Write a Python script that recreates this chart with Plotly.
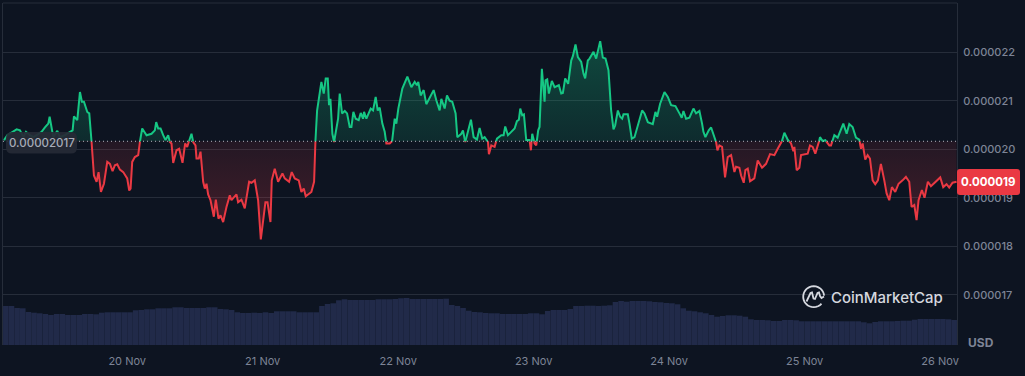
import math
import pandas as pd
import plotly.graph_objects as go

# ---------- data ----------
START = pd.Timestamp("2023-11-19 02:00")
END = pd.Timestamp("2023-11-26 03:00")
BASE = 2016.5          # opening price, 1e-8 USD
UNIT = 1e-8

hours = [
 .18,.77,2.42,3.01,3.6,4.07,4.78,5.37,5.96,6.84,7.43,8.02,8.26,8.61,8.91,9.62,10.09,10.97,11.86,12.33,12.57,13.16,13.63,13.98,14.34,14.93,15.28,15.69,15.87,16.11,
 16.58,16.93,17.35,17.88,18.47,18.94,19.41,19.82,20.24,20.71,21.3,22.0,22.36,22.6,22.89,23.36,23.95,24.25,24.66,25.43,26.31,26.9,27.14,27.49,27.91,28.38,28.79,29.26,29.56,29.85,
 30.15,30.74,31.21,31.8,32.27,32.63,33.1,33.39,33.69,34.1,34.28,34.69,34.99,35.46,35.75,36.05,36.34,36.76,37.35,37.7,38.17,38.53,39.0,39.59,40.18,40.47,41.36,41.65,42.24,42.83,
 43.6,44.01,44.6,45.19,45.67,46.49,46.85,47.38,47.61,48.14,48.73,49.5,49.91,50.68,51.15,51.68,52.39,52.86,53.28,53.63,54.63,55.11,55.34,55.64,56.4,56.82,57.17,57.53,57.76,58.0,
 58.35,58.65,59.36,59.65,60.06,60.54,60.95,61.42,61.72,62.07,62.48,63.01,63.37,63.78,63.96,64.37,64.84,65.14,65.55,66.02,66.38,66.73,67.2,67.62,67.91,68.5,68.91,69.39,69.68,70.03,
 70.74,71.63,72.34,72.93,73.34,73.57,73.99,74.52,74.99,75.46,76.29,76.76,77.35,77.65,78.24,78.65,79.12,79.59,80.18,80.48,81.19,81.48,81.89,82.37,82.9,83.37,83.96,84.43,84.9,85.32,
 85.91,86.08,86.5,87.09,87.5,88.27,88.68,88.97,89.45,90.04,90.63,91.04,91.39,91.63,91.98,92.28,92.69,93.28,93.52,93.75,94.17,94.46,94.81,95.05,95.46,95.94,96.11,96.41,96.7,97.23,
 97.71,98.47,98.89,99.18,99.59,100.12,100.66,100.95,101.42,101.84,102.43,102.84,103.13,103.6,103.9,104.61,105.08,105.79,106.26,106.73,107.26,107.73,108.15,108.44,108.92,109.33,109.68,109.92,110.68,110.98,
 111.39,111.87,112.45,113.04,113.22,113.64,114.23,115.11,115.58,115.88,116.41,117.18,117.77,118.36,119.12,119.83,120.24,120.54,121.01,121.6,122.31,122.78,123.37,123.84,124.08,124.43,125.02,125.44,125.85,126.32,
 126.56,126.91,127.38,127.91,128.39,128.98,129.57,129.86,130.45,130.75,131.22,131.51,131.93,132.34,133.1,133.7,134.46,135.17,135.88,136.65,137.24,137.53,137.94,138.42,139.01,139.6,140.01,140.19,140.6,141.07,
 141.37,142.07,142.55,142.96,143.43,143.9,144.49,144.73,145.2,145.67,146.38,146.68,147.27,147.86,148.45,148.86,149.45,149.92,150.51,151.1,151.69,151.99,152.28,152.75,153.17,153.58,154.05,154.52,154.99,155.52,
 156.12,156.53,157.0,157.47,158.06,158.65,159.36,159.95,160.54,160.95,161.43,161.84,162.19,162.78,163.25,163.84,164.38,165.26,166.03,166.56,167.15,167.62,168.21,168.92,
]
price = [
 2019,2029,2041,2039,2025,2036,2029,2025,2029,2036,2045,2053,2067,2043,2025,2038,2025,2029,2036,2039,2068,2060,2118,2098,2098,2077,2074,2015,1998,1946,
 1933,1953,1912,1929,1974,1970,1955,1967,1969,1958,1953,1940,1915,1919,1974,1984,1988,2015,2043,2029,2032,2039,2056,2043,2043,2029,2019,2029,2015,2012,
 1972,1998,2001,1972,2012,2005,2022,2032,2015,2008,1981,1981,1995,1933,1919,1929,1907,1895,1861,1896,1857,1864,1850,1881,1905,1895,1907,1891,1896,1878,
 1933,1931,1936,1895,1814,1891,1891,1850,1936,1960,1933,1950,1940,1933,1953,1940,1936,1912,1919,1903,1912,1933,2015,2080,2139,2115,2146,2146,2091,2104,
 2032,2015,2063,2115,2074,2079,2074,2046,2046,2077,2063,2060,2075,2063,2077,2063,2077,2084,2080,2108,2080,2086,2053,2036,2012,2012,2015,2063,2053,2084,
 2125,2150,2128,2139,2132,2139,2111,2122,2093,2104,2122,2101,2080,2104,2084,2111,2100,2098,2074,2025,2032,2039,2015,2039,2061,2025,2020,2044,2022,2025,
 2015,1990,2008,2005,2022,2029,2029,2047,2029,2036,2043,2058,2061,2084,2070,2072,2019,2019,1998,2032,2012,2008,2039,2046,2166,2098,2142,2144,2115,2141,
 2128,2132,2115,2116,2146,2135,2183,2192,2216,2190,2180,2156,2146,2183,2187,2201,2187,2223,2189,2187,2163,2080,2041,2049,2080,2067,2063,2072,2072,2053,
 2022,2025,2049,2077,2080,2074,2056,2052,2077,2067,2094,2118,2108,2091,2089,2074,2065,2079,2063,2065,2084,2074,2079,2053,2036,2025,2039,2045,2029,2015,
 1998,2008,2005,1942,1984,1988,1953,1964,1962,1946,1931,1957,1960,1934,1940,1977,1962,1970,1990,1988,2001,2008,2015,2034,2020,2012,1996,2005,1957,1962,
 1988,1990,1991,2008,2005,1991,2012,2025,2017,2019,2008,2008,2029,2024,2039,2053,2032,2052,2046,2024,2020,2001,2012,1979,1988,1981,1936,1928,1936,1970,
 1936,1909,1895,1922,1912,1929,1936,1943,1933,1881,1885,1854,1895,1916,1900,1933,1924,1934,1942,1922,1928,1921,1931,1933,
]
volume = [
 39,39,37,36.7,33,32.3,31.7,31,30,31, 31,30,30,30,31,31,30.7,32.3,32.7,32.7,
 32.7,32.7,32.7,34.7,35,35.7,35.7,36.7,36.7,36.7, 37.7,37.7,37,37,37,37,37.7,37.7,36,35.7,
 35,32.7,32,32,32.3,32,32.7,32,33.7,33.7, 33.7,33.7,32.7,32.7,32.7,32.7,39,41,41.7,44.7,
 45.7,45,45,45,45,45,45.7,45.7,45.7,46, 46.7,47,46,46,46,46,46,46,46.3,40,
 39,37,34.3,33,32.7,32,31.7,31.7,
 31,31,31,31,31,31.7,31.7,30.7,34,35, 35,35,36,39,39,39.3,39.3,39,39.3,39.7,
 43,44,43.3,44,44,44,43.7,43,42.7,42, 41.7,40.7,36.7,34.3,33.7,32.7,31.7,30,28.3,29,
 29.7,29.7,29.3,28.3,25.7,25,25,24.7,24,24, 25,25,24.7,23.7,23.7,23.7,23.7,23.7,23.7,23.7,
 23.7,23.7,23.7,23.7,22.7,21.7,23,23.7,23.7,23.7, 24,24.3,24.3,25.3,26,26,26,26,26,25.7,25,
]
y_tick_values = [2200, 2100, 2000, 1900, 1800, 1700]
y_tick_text = ["0.000022", "0.000021", "0.000020", "0.000019", "0.000018", "0.000017"]
x_tick_dates = ["2023-11-20", "2023-11-21", "2023-11-22", "2023-11-23", "2023-11-24", "2023-11-25", "2023-11-26"]
x_tick_text = ["20 Nov", "21 Nov", "22 Nov", "23 Nov", "24 Nov", "25 Nov", "26 Nov"]
last_label = "0.000019"
base_label = "0.00002017"

# ---------- styling ----------
W, H = 1025, 376
L, R, T, B = 3, 957, 3, 345
BG = "#0d1421"; GRID = "#262d3a"; TXT = "#7d8496"
GREEN = "#16c784"; RED = "#ea3943"; VOL = "#212a49"
FONT = "Inter"

def px(x): return (x - L) / (R - L)
def py(y): return 1 - (y - T) / (B - T)

def rrect(x0, y0, x1, y1, r):
    return (f"M{px(x0+r)},{py(y0)} L{px(x1-r)},{py(y0)} Q{px(x1)},{py(y0)} {px(x1)},{py(y0+r)} "
            f"L{px(x1)},{py(y1-r)} Q{px(x1)},{py(y1)} {px(x1-r)},{py(y1)} L{px(x0+r)},{py(y1)} "
            f"Q{px(x0)},{py(y1)} {px(x0)},{py(y1-r)} L{px(x0)},{py(y0+r)} Q{px(x0)},{py(y0)} {px(x0+r)},{py(y0)} Z")

# split the line at the opening price
t_all, up, dn, up_f, dn_f = [], [], [], [], []
def add(t, p):
    t_all.append(t)
    up.append(p if p >= BASE else None)
    dn.append(p if p <= BASE else None)
    up_f.append(max(p, BASE))
    dn_f.append(min(p, BASE))
for i, (t, p) in enumerate(zip(hours, price)):
    if i:
        t0, p0 = hours[i-1], price[i-1]
        if (p0 - BASE) * (p - BASE) < 0:
            add(t0 + (BASE - p0) / (p - p0) * (t - t0), BASE)
    add(t, p)
times = [START + pd.Timedelta(hours=h) for h in t_all]
vt = [START + pd.Timedelta(hours=i + 0.5) for i in range(len(volume))]

fig = go.Figure()
fig.add_bar(x=vt, y=volume, yaxis="y2", marker=dict(color=VOL, line=dict(width=0)), hoverinfo="skip")
fig.add_scatter(x=times, y=[BASE]*len(times), mode="lines", line=dict(width=0), hoverinfo="skip")
fig.add_scatter(x=times, y=up_f, mode="lines", line=dict(width=0), fill="tonexty", hoverinfo="skip",
                fillgradient=dict(type="vertical", start=2223, stop=BASE,
                                  colorscale=[[0, "rgba(22,199,132,0.30)"], [1, "rgba(22,199,132,0.13)"]]))
fig.add_scatter(x=times, y=[BASE]*len(times), mode="lines", line=dict(width=0), hoverinfo="skip")
fig.add_scatter(x=times, y=dn_f, mode="lines", line=dict(width=0), fill="tonexty", hoverinfo="skip",
                fillgradient=dict(type="vertical", start=BASE, stop=1814,
                                  colorscale=[[0, "rgba(234,57,67,0.10)"], [1, "rgba(234,57,67,0.26)"]]))
fig.add_scatter(x=times, y=dn, mode="lines", line=dict(color=RED, width=2), connectgaps=False, hoverinfo="skip")
fig.add_scatter(x=times, y=up, mode="lines", line=dict(color=GREEN, width=2), connectgaps=False, hoverinfo="skip")

shapes = [
    dict(type="line", xref="paper", yref="y", x0=0, x1=1, y0=BASE, y1=BASE,
         line=dict(color="#b4b8c2", width=1, dash="1px 3px")),
    dict(type="line", xref="paper", yref="paper", x0=0, x1=1, y0=1, y1=1, line=dict(color=GRID, width=1), layer="below"),
    dict(type="path", xref="paper", yref="paper", path=rrect(6, 132, 77, 153.5, 6),
         fillcolor="rgba(38,42,54,0.93)", line=dict(width=0)),
    dict(type="path", xref="paper", yref="paper", path=rrect(957, 169, 1020, 195, 3),
         fillcolor=RED, line=dict(width=0)),
]
# logo ring and mark
cx, cy, rad = 813.7, 296.7, 10.5
ring = [(cx + rad*math.cos(math.radians(a)), cy + rad*math.sin(math.radians(a))) for a in range(42, 366, 12)]
shapes.append(dict(type="path", xref="paper", yref="paper",
                   path="M" + " L".join(f"{px(a)},{py(b)}" for a, b in ring),
                   line=dict(color="#d5d8df", width=1.8)))
mark = [(806.5, 301.5), (810.5, 293), (812, 292.5), (813.5, 298.5), (815, 299), (817.5, 293), (819, 292.5),
        (820, 296), (821.5, 298), (824, 296.5)]
shapes.append(dict(type="path", xref="paper", yref="paper",
                   path="M" + " L".join(f"{px(a)},{py(b)}" for a, b in mark),
                   line=dict(color="#d5d8df", width=1.8)))

def note(text, x, y, **font):
    return dict(text=text, x=px(x), y=py(y), xref="paper", yref="paper", showarrow=False,
                xanchor="center", yanchor="middle", font=dict(family=FONT, **font))
ann = [
    note(base_label, 41.5, 143, size=11.5, color="#a7acb9", weight=500),
    note(last_label, 988.5, 182, size=11.5, color="#ffffff", weight=700),
    note("USD", 980.5, 342.5, size=12, color=TXT, weight=700),
    note("CoinMarketCap", 887, 297.5, size=15, color="#d5d8df", weight=500),
]

fig.update_layout(
    width=W, height=H, margin=dict(l=L, r=W-R, t=T, b=H-B),
    paper_bgcolor=BG, plot_bgcolor=BG, showlegend=False, bargap=0.012,
    shapes=shapes, annotations=ann,
    xaxis=dict(type="date", range=[START, END], tickmode="array", tickvals=x_tick_dates, ticktext=x_tick_text,
               showgrid=False, zeroline=False, showline=False, ticks="outside", ticklen=6, tickcolor=BG,
               tickfont=dict(family=FONT, size=11, color=TXT)),
    yaxis=dict(side="right", range=[1596.5, 2301.6], tickmode="array", tickvals=y_tick_values, ticktext=y_tick_text,
               showgrid=True, gridcolor=GRID, gridwidth=1, zeroline=False, showline=True, linecolor=GRID, mirror=True,
               ticks="outside", ticklen=3, tickcolor=BG,
               tickfont=dict(family=FONT, size=11, color=TXT, weight=500)),
    yaxis2=dict(overlaying="y", range=[0, B - T], visible=False, fixedrange=True),
)
fig.write_html("out.html", config=dict(displayModeBar=False),
               post_script="document.body.style.margin='0';document.body.style.background='#0d1421';document.body.style.overflow='hidden';")
